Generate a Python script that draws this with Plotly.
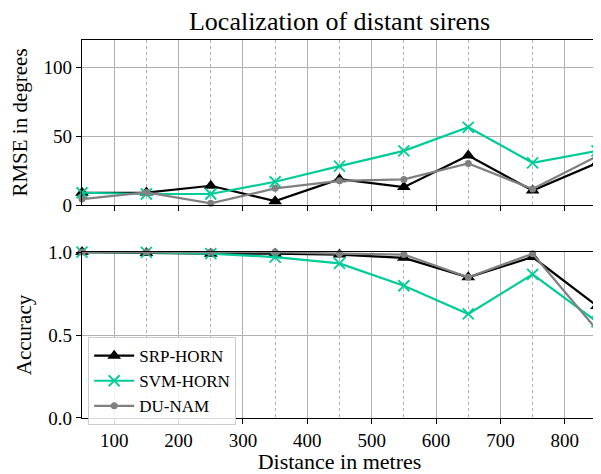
import plotly.graph_objects as go
from plotly.subplots import make_subplots

distance = [50, 150, 250, 350, 450, 550, 650, 750, 850]
srp_rmse = [8.9, 9.0, 14.0, 2.8, 18.8, 13.0, 36.0, 10.5, 30.5]
svm_rmse = [8.9, 8.0, 8.0, 16.9, 28.3, 39.4, 56.5, 30.7, 39.4]
dunam_rmse = [4.3, 9.1, 1.2, 12.1, 17.6, 18.6, 30.2, 11.6, 35.5]
srp_acc = [1.0, 0.995, 0.99, 0.99, 0.985, 0.965, 0.848, 0.97, 0.675]
svm_acc = [1.0, 0.998, 0.99, 0.97, 0.932, 0.797, 0.627, 0.866, 0.58]
dunam_acc = [1.0, 1.0, 1.0, 1.0, 0.99, 0.985, 0.848, 0.99, 0.53]

names = ["SRP-HORN", "SVM-HORN", "DU-NAM"]
colors = ["#000000", "#00CC99", "#808080"]
symbols = ["triangle-up", "x-thin", "circle"]
sizes = [12, 11, 7]

fig = make_subplots(rows=2, cols=1, shared_xaxes=False, vertical_spacing=0.1245)

FONT = "Liberation Serif"
for i, (r, a) in enumerate(zip([srp_rmse, svm_rmse, dunam_rmse], [srp_acc, svm_acc, dunam_acc])):
    mk = dict(symbol=symbols[i], size=sizes[i], color=colors[i],
              line=dict(color=colors[i], width=1.8 if symbols[i] == "x-thin" else 0))
    fig.add_trace(go.Scatter(x=distance, y=r, mode="lines+markers", name=names[i],
                             line=dict(color=colors[i], width=2.2), marker=mk,
                             showlegend=False, cliponaxis=False), row=1, col=1)
    fig.add_trace(go.Scatter(x=distance, y=a, mode="lines+markers", name=names[i],
                             line=dict(color=colors[i], width=2.2), marker=mk,
                             showlegend=True, cliponaxis=False), row=2, col=1)

xcommon = dict(range=[50, 850], tick0=0, dtick=100, showline=True, linecolor="black",
               linewidth=1.3, mirror=True, ticks="outside", ticklen=5, tickcolor="black",
               showgrid=True, gridcolor="#b0b0b0", gridwidth=1, zeroline=False,
               automargin=False, tickfont=dict(size=19),
               minor=dict(dtick=50, tick0=0, showgrid=True, gridcolor="#b0b0b0",
                          griddash="dot", gridwidth=1, ticks=""))
fig.update_xaxes(**xcommon)
fig.update_xaxes(showticklabels=False, row=1, col=1)
fig.update_xaxes(title=dict(text="Distance in metres", standoff=4, font=dict(size=22)), row=2, col=1)

ycommon = dict(showline=True, linecolor="black", linewidth=1.3, mirror=True,
               ticks="outside", ticklen=5, tickcolor="black", showgrid=True,
               gridcolor="#b0b0b0", gridwidth=1, zeroline=False, automargin=False,
               tickfont=dict(size=19))
fig.update_yaxes(**ycommon)
fig.update_yaxes(range=[0, 120], tickvals=[0, 50, 100], ticktext=["0", "50", "100"],
                 title=dict(text="RMSE in degrees", standoff=10, font=dict(size=21)),
                 domain=[0.5635, 1.0], row=1, col=1)
fig.update_yaxes(range=[0, 1.0], tickvals=[0, 0.5, 1.0], ticktext=["0.0", "0.5", "1.0"],
                 title=dict(text="Accuracy", standoff=10, font=dict(size=21)),
                 domain=[0.0, 0.439], row=2, col=1)

fig.update_layout(
    width=593, height=466,
    margin=dict(l=74, r=4, t=32, b=56, autoexpand=False),
    paper_bgcolor="white", plot_bgcolor="white",
    font=dict(family=FONT, size=19, color="black"),
    title=dict(text="Localization of distant sirens", xref="paper", x=0.5, xanchor="center",
               yref="container", y=0.972, yanchor="middle", font=dict(size=26, family=FONT)),
    legend=dict(x=0.012, y=0.214, xanchor="left", yanchor="top",
                bgcolor="rgba(255,255,255,0.85)", bordercolor="#cccccc", borderwidth=1,
                font=dict(size=17, family=FONT), tracegroupgap=0, itemwidth=40),
)

fig.write_html("out.html")
